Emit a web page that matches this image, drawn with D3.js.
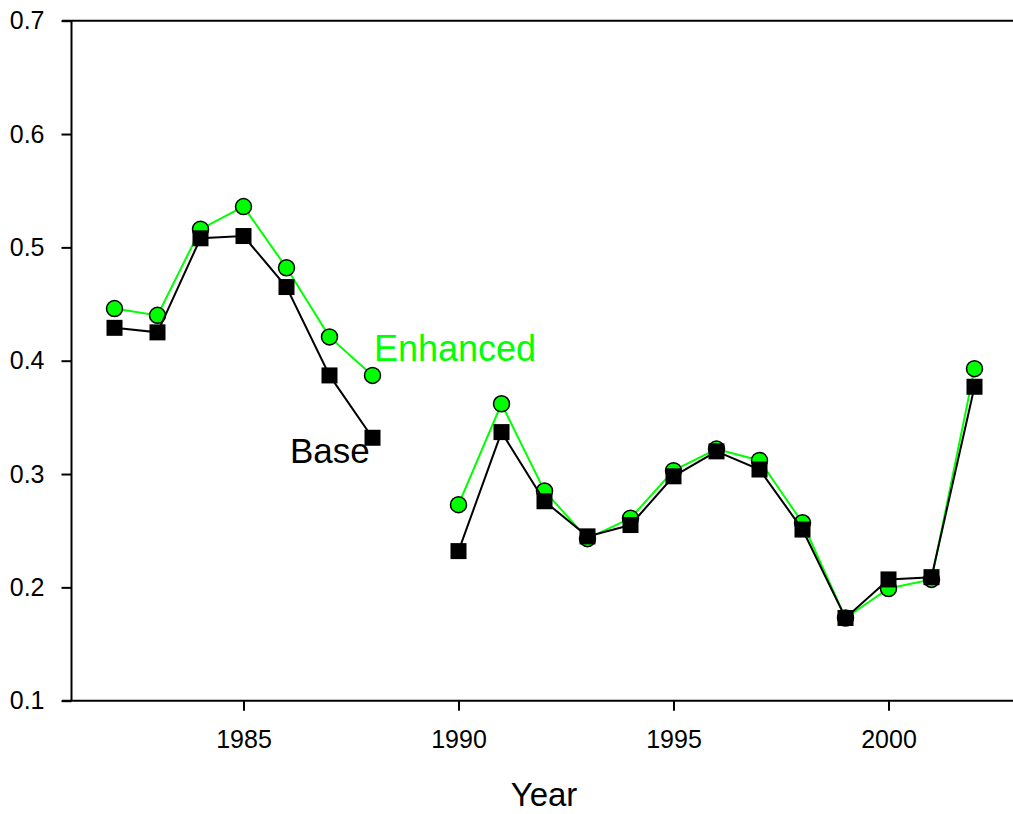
<!DOCTYPE html>
<html>
<head>
<meta charset="utf-8">
<script src="https://cdn.jsdelivr.net/npm/d3@7"></script>
<style>
  body { margin: 0; background: #fff; }
  svg { font-family: "Liberation Sans", Arial, sans-serif; }
</style>
</head>
<body>
<script>
// values
var years    = [1982, 1983, 1984, 1985, 1986, 1987, 1988, 1989, 1990, 1991, 1992,
                1993, 1994, 1995, 1996, 1997, 1998, 1999, 2000, 2001, 2002];
var enhanced = [0.446, 0.440, 0.516, 0.536, 0.482, 0.421, 0.387, null, 0.273, 0.362, 0.285,
                0.243, 0.261, 0.303, 0.322, 0.312, 0.257, 0.173, 0.199, 0.207, 0.393];
var base     = [0.429, 0.425, 0.508, 0.510, 0.465, 0.387, 0.332, null, 0.232, 0.337, 0.276,
                0.245, 0.255, 0.298, 0.320, 0.304, 0.251, 0.173, 0.207, 0.209, 0.377];
var xTicks = [1985, 1990, 1995, 2000];
var yTicks = [0.1, 0.2, 0.3, 0.4, 0.5, 0.6, 0.7];

var width = 1013, height = 814;

var svg = d3.select('body')
            .append('svg')
            .attr('width', width)
            .attr('height', height);

var x = d3.scaleLinear().domain([1981, 2003]).range([71.5, 1017.5]);
var y = d3.scaleLinear().domain([0.1, 0.7]).range([700.7, 20.7]);

// frame: left axis, top and bottom lines
svg.append('line')
   .attr('x1', x(1981)).attr('x2', x(1981))
   .attr('y1', y(0.7)).attr('y2', y(0.1))
   .attr('stroke', '#000').attr('stroke-width', 2);
[0.7, 0.1].forEach(function(v) {
  svg.append('line')
     .attr('x1', 62).attr('x2', width)
     .attr('y1', y(v)).attr('y2', y(v))
     .attr('stroke', '#000').attr('stroke-width', 2);
});

var yAxis = svg.append('g')
   .attr('transform', 'translate(' + x(1981) + ',0)')
   .call(d3.axisLeft(y).tickValues(yTicks).tickSize(10).tickPadding(17).tickFormat(d3.format('.1f')));
yAxis.select('.domain').remove();
yAxis.selectAll('line').attr('stroke-width', 2);
yAxis.selectAll('text').attr('font-size', 25).attr('font-family', null).attr('fill', '#000');

var xAxis = svg.append('g')
   .attr('transform', 'translate(0,' + y(0.1) + ')')
   .call(d3.axisBottom(x).tickValues(xTicks).tickSize(10).tickFormat(d3.format('d')));
xAxis.select('.domain').remove();
xAxis.selectAll('line').attr('stroke-width', 2);
xAxis.selectAll('text').attr('font-size', 25).attr('font-family', null)
     .attr('dy', null).attr('y', 47.5).attr('fill', '#000');

svg.append('text')
   .attr('x', 544).attr('y', 806)
   .attr('text-anchor', 'middle')
   .attr('font-size', 33)
   .text('Year');

function series(vals) {
  return years.map(function(yr, i) { return {year: yr, v: vals[i]}; });
}
var line = d3.line()
             .defined(function(d) { return d.v != null; })
             .x(function(d) { return x(d.year); })
             .y(function(d) { return y(d.v); });

var green = '#00ff00';
var enh = series(enhanced), bas = series(base);

// enhanced first, base drawn on top
svg.append('path').datum(enh).attr('d', line)
   .attr('fill', 'none').attr('stroke', green).attr('stroke-width', 2);
svg.selectAll('circle.enh')
   .data(enh.filter(function(d) { return d.v != null; }))
   .enter()
     .append('circle')
     .attr('class', 'enh')
     .attr('cx', function(d) { return x(d.year); })
     .attr('cy', function(d) { return y(d.v); })
     .attr('r', 8)
     .attr('fill', green)
     .attr('stroke', '#000')
     .attr('stroke-width', 1.5);

svg.append('path').datum(bas).attr('d', line)
   .attr('fill', 'none').attr('stroke', '#000').attr('stroke-width', 2);
svg.selectAll('rect.base')
   .data(bas.filter(function(d) { return d.v != null; }))
   .enter()
     .append('rect')
     .attr('class', 'base')
     .attr('x', function(d) { return x(d.year) - 8; })
     .attr('y', function(d) { return y(d.v) - 8; })
     .attr('width', 16)
     .attr('height', 16)
     .attr('fill', '#000');

svg.append('text')
   .attr('x', 374).attr('y', 361)
   .attr('font-size', 36)
   .attr('fill', green)
   .text('Enhanced');
svg.append('text')
   .attr('x', 290).attr('y', 463)
   .attr('font-size', 35)
   .attr('fill', '#000')
   .text('Base');
</script>
</body>
</html>
